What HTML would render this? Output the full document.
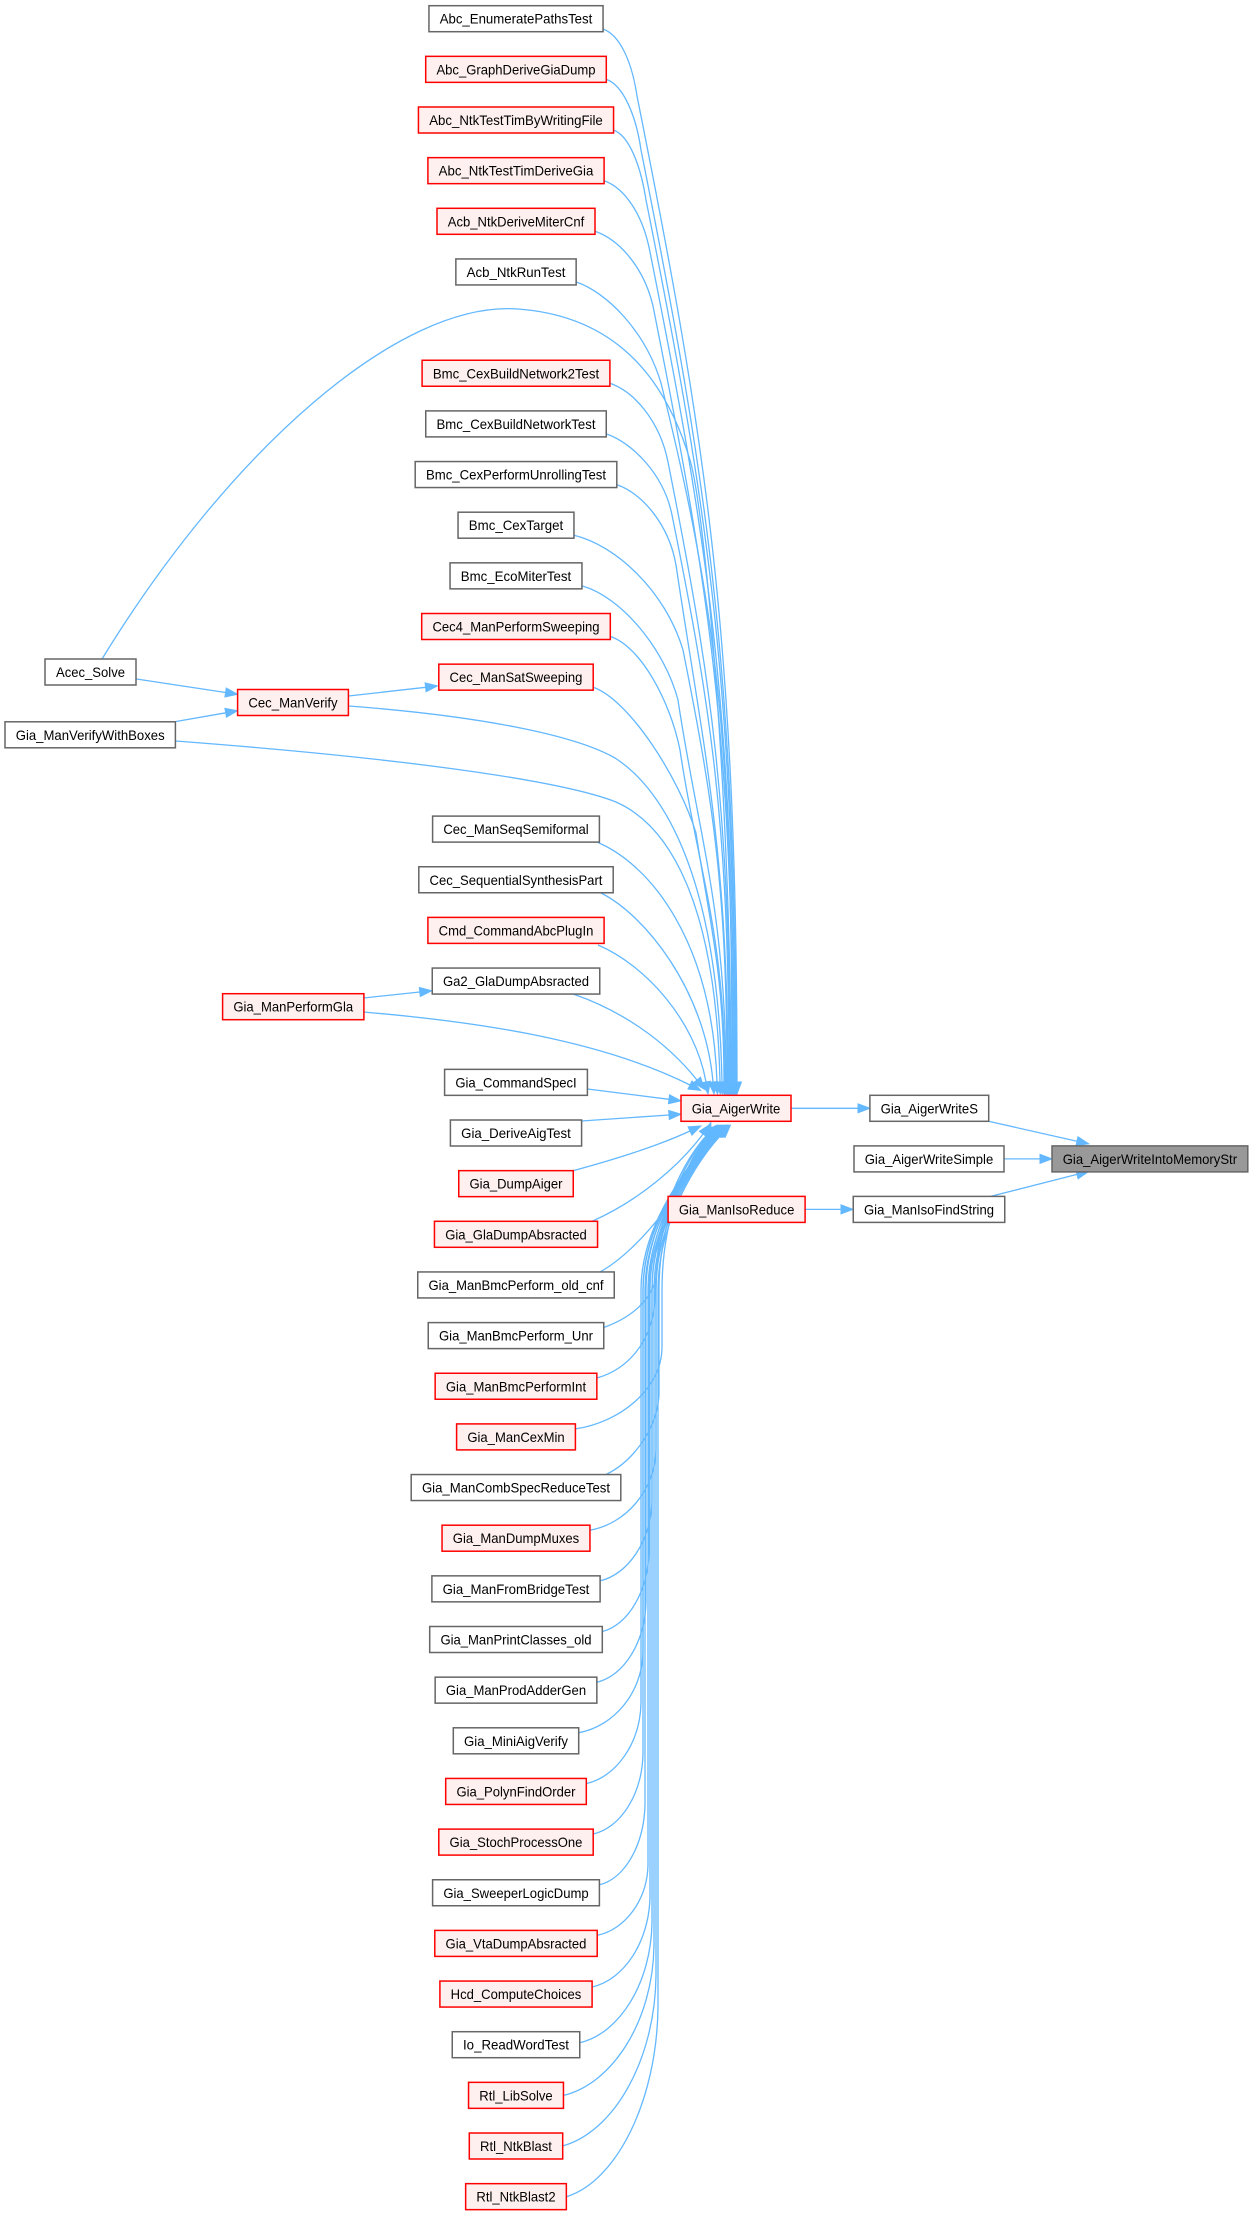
<!DOCTYPE html>
<html>
<head>
<meta charset="utf-8">
<style>
html,body{margin:0;padding:0;background:#fff;}
body{width:1250px;height:2216px;overflow:hidden;}
svg{display:block;}
.b{fill:#ffffff;stroke:#666666;stroke-width:1.5;}
.r{fill:#fff0f0;stroke:#ff0000;stroke-width:1.5;}
.g{fill:#999999;stroke:#666666;stroke-width:1.5;}
text{font-family:"Liberation Sans",Arial,sans-serif;font-size:14px;fill:#000;text-anchor:middle;}
.e path{fill:none;stroke:#63b8ff;stroke-width:1.3;marker-end:url(#ah);}
</style>
</head>
<body>
<svg width="1250" height="2216" viewBox="0 0 1250 2216" xmlns="http://www.w3.org/2000/svg">
<defs>
<marker id="ah" viewBox="0 0 12 10" refX="0" refY="5" markerWidth="12" markerHeight="10" markerUnits="userSpaceOnUse" orient="auto" overflow="visible">
<path d="M0,0.5 L12,5 L0,9.5 Z" fill="#63b8ff" stroke="#63b8ff" stroke-width="1"/>
</marker>
</defs>

<g class="e">
<!-- upper edges to Gia_AigerWrite -->
<path d="M603,29 C620,35 632,62 637,96 C706,441 737,638 737,1082"/>
<path d="M606.3,79.4 C623,85 636,115 641,150 C706,476 736,663 736,1082"/>
<path d="M613.5,130 C630,136 641,168 646,200 C708,509 735,685 735,1082"/>
<path d="M604.1,180.7 C625,188 643,215 650,252 C708,542.5 734,708.5 734,1082"/>
<path d="M595,231.3 C620,240 644,268 653,306 C707,578 733,733 733,1082"/>
<path d="M576.2,282 C606,292 645,330 661,383 C722,628 732,767 732,1082"/>
<path d="M102,659 C230,450 400,300 518,309 C600,315 660,360 690,460 C705,510 731,800 731,1082"/>
<path d="M609.9,383.3 C635,392 660,422 668,462 C711,679 730,803 730,1082"/>
<path d="M606.3,433.9 C633,443 664,475 672,515 C712,713 729,827 729,1082"/>
<path d="M616.8,484.6 C643,494 669,525 676,565 C703,746 728,849 728,1082"/>
<path d="M574,535.2 C615,545 665,590 683,650 C713,801 727,888 727,1082"/>
<path d="M582,585.9 C622,597 665,650 678,700 C698,834 726,910 726,1082"/>
<path d="M610.3,636.5 C640,646 670,700 680,750 C697,866 725,933 725,1082"/>
<path d="M593.2,687.2 C630,700 680,780 696,833 C709,920 724,970 724,1082"/>
<path d="M349,706 C480,716 575,735 615,758 C665,790 718,880 722,1082"/>
<path d="M175.5,741 C400,758 560,780 616,802 C668,825 716,900 720,1082"/>
<path d="M598,842.5 C650,865 712,940 717,1082"/>
<path d="M601,893 C645,915 705,990 713,1082"/>
<path d="M598,945 C645,965 695,1020 706,1082"/>
<path d="M573,994 C620,1010 665,1040 697,1080"/>
<path d="M363.5,1012 C480,1022 600,1040 690,1085"/>
<!-- side edges -->
<path d="M587.5,1089 L669,1099.3"/>
<path d="M581.5,1121 L669,1115"/>
<path d="M572,1171 C620,1158 660,1145 690,1131"/>
<path d="M592,1221.3 C640,1200 680,1165 703,1134"/>
<!-- lower edges -->
<path d="M600,1272 C640,1250 690,1185 707,1134"/>
<path d="M603.5,1327.6 C630,1318 655,1300 657,1270 C657,1215 683,1160 708,1134"/>
<path d="M597,1378 C625,1370 652,1345 655,1300 C655,1222 684,1160 709,1134"/>
<path d="M575.5,1428.9 C620,1422.5 661,1388.9 662,1348.9 L662,1290 C662,1222 685,1160 710,1134"/>
<path d="M606,1474.5 C632,1462 657,1430 659,1395 L659,1290 C659,1222 686,1160 711,1134"/>
<path d="M590,1530.2 C626,1523.8 655,1490.2 656,1450.2 L656,1290 C656,1222 687,1160 712,1134"/>
<path d="M600,1580.9 C628,1574.5 651,1540.9 652,1500.9 L652,1290 C652,1222 688,1160 713,1134"/>
<path d="M602.5,1631.5 C628,1625.1 648,1591.5 649,1551.5 L649,1290 C649,1222 689,1160 714,1134"/>
<path d="M597,1682.2 C624,1675.8 645,1642.2 646,1602.2 L646,1290 C646,1222 690,1160 715,1134"/>
<path d="M578.5,1732.8 C614,1726.4 642,1692.8 643,1652.8 L643,1290 C643,1222 691,1160 716,1134"/>
<path d="M586.5,1783.5 C616,1777 640,1743.5 641,1703.5 L641,1290 C641,1222 692,1160 717,1134"/>
<path d="M593,1834.1 C621,1827.7 642,1794.1 643,1754.1 L643,1290 C643,1222 692,1160 717,1134"/>
<path d="M599.5,1884.8 C625,1878.4 644,1844.8 645,1804.8 L645,1290 C645,1222 693,1160 718,1134"/>
<path d="M597,1935.4 C625,1929.8 647,1900.4 648,1865.4 L648,1290 C648,1222 693,1160 718,1134"/>
<path d="M592,1987 C624,1979.8 649,1942 650,1897 L650,1290 C650,1222 694,1160 719,1134"/>
<path d="M580,2042.7 C620,2033.1 651,1982.7 652,1922.7 L652,1290 C652,1222 694,1160 719,1134"/>
<path d="M563.5,2095.4 C613,2083.4 653,2020.4 654,1945.4 L654,1290 C654,1222 695,1160 720,1134"/>
<path d="M562.5,2146 C613,2132.4 655,2061 656,1976 L656,1290 C656,1222 696,1160 721,1134"/>
<path d="M566.5,2196.7 C616,2181.5 657,2101.7 658,2006.7 L658,1290 C658,1222 697,1160 722,1134"/>
<!-- left column edges -->
<path d="M136.5,679 L225.6,692.5"/>
<path d="M176,721.5 L225.7,712.8"/>
<path d="M348.6,696 L425.6,687.3"/>
<path d="M363.5,998 L419.8,992"/>
<!-- right side edges -->
<path d="M791,1108.3 L858,1108.3"/>
<path d="M988.5,1121.3 L1077,1141.2"/>
<path d="M1004,1158.9 L1040,1158.9"/>
<path d="M990.5,1196.4 L1077,1174.4"/>
<path d="M805.1,1209.4 L841,1209.4"/>
</g>

<!-- middle column nodes -->
<rect class="b" x="428.95" y="5.7" width="174.1" height="26"/><text x="516" y="23.7" textLength="152.6" lengthAdjust="spacingAndGlyphs">Abc_EnumeratePathsTest</text>
<rect class="r" x="425.7" y="56.35" width="180.6" height="26"/><text x="516" y="74.35" textLength="159.1" lengthAdjust="spacingAndGlyphs">Abc_GraphDeriveGiaDump</text>
<rect class="r" x="418.45" y="107" width="195.1" height="26"/><text x="516" y="125" textLength="173.6" lengthAdjust="spacingAndGlyphs">Abc_NtkTestTimByWritingFile</text>
<rect class="r" x="427.9" y="157.65" width="176.2" height="26"/><text x="516" y="175.65" textLength="154.7" lengthAdjust="spacingAndGlyphs">Abc_NtkTestTimDeriveGia</text>
<rect class="r" x="437" y="208.3" width="158" height="26"/><text x="516" y="226.3" textLength="136.5" lengthAdjust="spacingAndGlyphs">Acb_NtkDeriveMiterCnf</text>
<rect class="b" x="455.85" y="258.95" width="120.3" height="26"/><text x="516" y="276.95" textLength="98.8" lengthAdjust="spacingAndGlyphs">Acb_NtkRunTest</text>
<rect class="r" x="422.1" y="360.25" width="187.8" height="26"/><text x="516" y="378.25" textLength="166.3" lengthAdjust="spacingAndGlyphs">Bmc_CexBuildNetwork2Test</text>
<rect class="b" x="425.75" y="410.9" width="180.5" height="26"/><text x="516" y="428.9" textLength="159" lengthAdjust="spacingAndGlyphs">Bmc_CexBuildNetworkTest</text>
<rect class="b" x="415.2" y="461.55" width="201.6" height="26"/><text x="516" y="479.55" textLength="180.1" lengthAdjust="spacingAndGlyphs">Bmc_CexPerformUnrollingTest</text>
<rect class="b" x="458.05" y="512.2" width="115.9" height="26"/><text x="516" y="530.2" textLength="94.4" lengthAdjust="spacingAndGlyphs">Bmc_CexTarget</text>
<rect class="b" x="450.05" y="562.85" width="131.9" height="26"/><text x="516" y="580.85" textLength="110.4" lengthAdjust="spacingAndGlyphs">Bmc_EcoMiterTest</text>
<rect class="r" x="421.7" y="613.5" width="188.6" height="26"/><text x="516" y="631.5" textLength="167.1" lengthAdjust="spacingAndGlyphs">Cec4_ManPerformSweeping</text>
<rect class="r" x="438.8" y="664.15" width="154.4" height="26"/><text x="516" y="682.15" textLength="132.9" lengthAdjust="spacingAndGlyphs">Cec_ManSatSweeping</text>
<rect class="b" x="432.6" y="816.1" width="166.8" height="26"/><text x="516" y="834.1" textLength="145.3" lengthAdjust="spacingAndGlyphs">Cec_ManSeqSemiformal</text>
<rect class="b" x="418.8" y="866.75" width="194.4" height="26"/><text x="516" y="884.75" textLength="172.9" lengthAdjust="spacingAndGlyphs">Cec_SequentialSynthesisPart</text>
<rect class="r" x="427.9" y="917.4" width="176.2" height="26"/><text x="516" y="935.4" textLength="154.7" lengthAdjust="spacingAndGlyphs">Cmd_CommandAbcPlugIn</text>
<rect class="b" x="432.25" y="968.05" width="167.5" height="26"/><text x="516" y="986.05" textLength="146" lengthAdjust="spacingAndGlyphs">Ga2_GlaDumpAbsracted</text>
<rect class="b" x="444.6" y="1069.35" width="142.8" height="26"/><text x="516" y="1087.35" textLength="121.3" lengthAdjust="spacingAndGlyphs">Gia_CommandSpecI</text>
<rect class="b" x="450.4" y="1120" width="131.2" height="26"/><text x="516" y="1138" textLength="109.7" lengthAdjust="spacingAndGlyphs">Gia_DeriveAigTest</text>
<rect class="r" x="458.75" y="1170.65" width="114.5" height="26"/><text x="516" y="1188.65" textLength="93" lengthAdjust="spacingAndGlyphs">Gia_DumpAiger</text>
<rect class="r" x="434.45" y="1221.3" width="163.1" height="26"/><text x="516" y="1239.3" textLength="141.6" lengthAdjust="spacingAndGlyphs">Gia_GlaDumpAbsracted</text>
<rect class="b" x="417.75" y="1271.95" width="196.5" height="26"/><text x="516" y="1289.95" textLength="175" lengthAdjust="spacingAndGlyphs">Gia_ManBmcPerform_old_cnf</text>
<rect class="b" x="428.25" y="1322.6" width="175.5" height="26"/><text x="516" y="1340.6" textLength="154" lengthAdjust="spacingAndGlyphs">Gia_ManBmcPerform_Unr</text>
<rect class="r" x="435.15" y="1373.25" width="161.7" height="26"/><text x="516" y="1391.25" textLength="140.2" lengthAdjust="spacingAndGlyphs">Gia_ManBmcPerformInt</text>
<rect class="r" x="456.6" y="1423.9" width="118.8" height="26"/><text x="516" y="1441.9" textLength="97.3" lengthAdjust="spacingAndGlyphs">Gia_ManCexMin</text>
<rect class="b" x="411.2" y="1474.55" width="209.6" height="26"/><text x="516" y="1492.55" textLength="188.1" lengthAdjust="spacingAndGlyphs">Gia_ManCombSpecReduceTest</text>
<rect class="r" x="442.05" y="1525.2" width="147.9" height="26"/><text x="516" y="1543.2" textLength="126.4" lengthAdjust="spacingAndGlyphs">Gia_ManDumpMuxes</text>
<rect class="b" x="431.9" y="1575.85" width="168.2" height="26"/><text x="516" y="1593.85" textLength="146.7" lengthAdjust="spacingAndGlyphs">Gia_ManFromBridgeTest</text>
<rect class="b" x="429.7" y="1626.5" width="172.6" height="26"/><text x="516" y="1644.5" textLength="151.1" lengthAdjust="spacingAndGlyphs">Gia_ManPrintClasses_old</text>
<rect class="b" x="435.15" y="1677.15" width="161.7" height="26"/><text x="516" y="1695.15" textLength="140.2" lengthAdjust="spacingAndGlyphs">Gia_ManProdAdderGen</text>
<rect class="b" x="453.3" y="1727.8" width="125.4" height="26"/><text x="516" y="1745.8" textLength="103.9" lengthAdjust="spacingAndGlyphs">Gia_MiniAigVerify</text>
<rect class="r" x="445.7" y="1778.45" width="140.6" height="26"/><text x="516" y="1796.45" textLength="119.1" lengthAdjust="spacingAndGlyphs">Gia_PolynFindOrder</text>
<rect class="r" x="438.8" y="1829.1" width="154.4" height="26"/><text x="516" y="1847.1" textLength="132.9" lengthAdjust="spacingAndGlyphs">Gia_StochProcessOne</text>
<rect class="b" x="432.6" y="1879.75" width="166.8" height="26"/><text x="516" y="1897.75" textLength="145.3" lengthAdjust="spacingAndGlyphs">Gia_SweeperLogicDump</text>
<rect class="r" x="434.8" y="1930.4" width="162.4" height="26"/><text x="516" y="1948.4" textLength="140.9" lengthAdjust="spacingAndGlyphs">Gia_VtaDumpAbsracted</text>
<rect class="r" x="439.9" y="1981.05" width="152.2" height="26"/><text x="516" y="1999.05" textLength="130.7" lengthAdjust="spacingAndGlyphs">Hcd_ComputeChoices</text>
<rect class="b" x="452.25" y="2031.7" width="127.5" height="26"/><text x="516" y="2049.7" textLength="106" lengthAdjust="spacingAndGlyphs">Io_ReadWordTest</text>
<rect class="r" x="468.55" y="2082.35" width="94.9" height="26"/><text x="516" y="2100.35" textLength="73.4" lengthAdjust="spacingAndGlyphs">Rtl_LibSolve</text>
<rect class="r" x="469.3" y="2133" width="93.4" height="26"/><text x="516" y="2151" textLength="71.9" lengthAdjust="spacingAndGlyphs">Rtl_NtkBlast</text>
<rect class="r" x="465.65" y="2183.65" width="100.7" height="26"/><text x="516" y="2201.65" textLength="79.2" lengthAdjust="spacingAndGlyphs">Rtl_NtkBlast2</text>

<!-- left column nodes -->
<rect class="b" x="45" y="659" width="91" height="26"/><text x="90.5" y="677" textLength="69" lengthAdjust="spacingAndGlyphs">Acec_Solve</text>
<rect class="b" x="5" y="721.8" width="170.4" height="26"/><text x="90.2" y="739.8" textLength="148.9" lengthAdjust="spacingAndGlyphs">Gia_ManVerifyWithBoxes</text>
<rect class="r" x="237.6" y="689.5" width="110.8" height="26"/><text x="293" y="707.5" textLength="89.3" lengthAdjust="spacingAndGlyphs">Cec_ManVerify</text>
<rect class="r" x="222.6" y="993.7" width="141.3" height="26"/><text x="293.25" y="1011.7" textLength="119.8" lengthAdjust="spacingAndGlyphs">Gia_ManPerformGla</text>

<!-- right nodes -->
<rect class="r" x="681" y="1095.3" width="110" height="26"/><text x="736" y="1113.3" textLength="88.6" lengthAdjust="spacingAndGlyphs">Gia_AigerWrite</text>
<rect class="r" x="668.1" y="1196.4" width="137" height="26"/><text x="736.6" y="1214.4" textLength="115.5" lengthAdjust="spacingAndGlyphs">Gia_ManIsoReduce</text>
<rect class="b" x="869.9" y="1095.3" width="118.8" height="26"/><text x="929.3" y="1113.3" textLength="97.3" lengthAdjust="spacingAndGlyphs">Gia_AigerWriteS</text>
<rect class="b" x="854" y="1145.9" width="150" height="26"/><text x="929" y="1163.9" textLength="128.5" lengthAdjust="spacingAndGlyphs">Gia_AigerWriteSimple</text>
<rect class="b" x="853.25" y="1196.4" width="151.5" height="26"/><text x="929" y="1214.4" textLength="130" lengthAdjust="spacingAndGlyphs">Gia_ManIsoFindString</text>
<rect class="g" x="1052" y="1145.9" width="195.8" height="26"/><text x="1149.9" y="1163.9" textLength="174.3" lengthAdjust="spacingAndGlyphs">Gia_AigerWriteIntoMemoryStr</text>
</svg>
</body>
</html>
